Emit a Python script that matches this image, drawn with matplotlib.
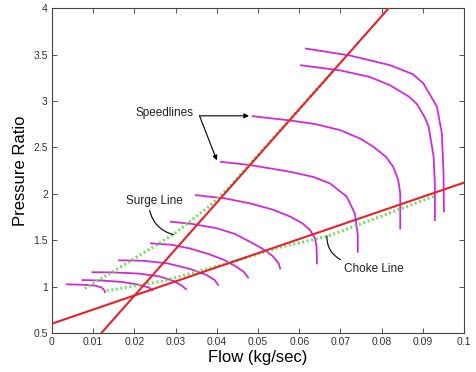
import matplotlib
matplotlib.use("Agg")
import matplotlib.pyplot as plt

plt.rcParams['font.family'] = ['Liberation Sans', 'DejaVu Sans']

# ---- data ----
x_ticks = [0, 0.01, 0.02, 0.03, 0.04, 0.05, 0.06, 0.07, 0.08, 0.09, 0.1]
x_tick_labels = ["0", "0.01", "0.02", "0.03", "0.04", "0.05", "0.06", "0.07", "0.08", "0.09", "0.1"]
y_ticks = [0.5, 1, 1.5, 2, 2.5, 3, 3.5, 4]
y_tick_labels = ["0.5", "1", "1.5", "2", "2.5", "3", "3.5", "4"]

speed1_x = [0.0034, 0.007, 0.0105, 0.012, 0.0127, 0.0129]
speed1_y = [1.024, 1.02, 1.01, 0.99, 0.96, 0.93]
speed2_x = [0.0072, 0.012, 0.017, 0.021, 0.0235, 0.0245]
speed2_y = [1.07, 1.065, 1.05, 1.02, 0.99, 0.955]
speed3_x = [0.0096, 0.015, 0.021, 0.026, 0.0295, 0.0315, 0.0327]
speed3_y = [1.155, 1.152, 1.14, 1.11, 1.06, 1.01, 0.965]
speed4_x = [0.0161, 0.022, 0.028, 0.0335, 0.0375, 0.0395, 0.0404]
speed4_y = [1.283, 1.278, 1.25, 1.19, 1.125, 1.07, 1.01]
speed5_x = [0.0238, 0.029, 0.0335, 0.038, 0.0416, 0.0445, 0.0465, 0.0477]
speed5_y = [1.466, 1.45, 1.41, 1.35, 1.29, 1.22, 1.16, 1.09]
speed6_x = [0.0286, 0.034, 0.04, 0.0445, 0.048, 0.051, 0.0535, 0.055, 0.0554]
speed6_y = [1.70, 1.675, 1.628, 1.565, 1.483, 1.41, 1.33, 1.25, 1.186]
speed7_x = [0.0347, 0.042, 0.048, 0.0535, 0.0578, 0.0608, 0.0626, 0.0638, 0.0642, 0.0643]
speed7_y = [1.986, 1.95, 1.897, 1.83, 1.754, 1.68, 1.609, 1.52, 1.43, 1.24]
speed8_x = [0.0408, 0.048, 0.0578, 0.0635, 0.0675, 0.0715, 0.0735, 0.0742, 0.0742]
speed8_y = [2.345, 2.31, 2.237, 2.18, 2.11, 1.97, 1.787, 1.55, 1.365]
speed9_x = [0.0485, 0.0578, 0.064, 0.0699, 0.075, 0.078, 0.081, 0.0828, 0.084, 0.0845, 0.0845]
speed9_y = [2.837, 2.79, 2.75, 2.686, 2.59, 2.506, 2.4, 2.29, 2.15, 2.0, 1.617]
speed10_x = [0.0602, 0.0699, 0.077, 0.082, 0.0865, 0.0885, 0.0905, 0.0914, 0.0926, 0.0929, 0.0929]
speed10_y = [3.386, 3.33, 3.26, 3.17, 3.05, 2.97, 2.82, 2.72, 2.40, 2.1, 1.706]
speed11_x = [0.0614, 0.0723, 0.082, 0.0875, 0.0901, 0.0934, 0.0946, 0.095, 0.0951]
speed11_y = [3.566, 3.49, 3.386, 3.29, 3.19, 2.94, 2.65, 2.22, 1.80]

surge_red_x = [0.012, 0.0817]
surge_red_y = [0.5, 4.0]
choke_red_x = [0.0, 0.1]
choke_red_y = [0.6, 2.12]

surge_green_x = [0.008, 0.017, 0.0294, 0.0383, 0.043, 0.0682]
surge_green_y = [0.98, 1.22, 1.56, 1.87, 2.07, 3.32]
choke_green_x = [0.0133, 0.027, 0.045, 0.055, 0.0667, 0.08, 0.093]
choke_green_y = [0.955, 1.06, 1.28, 1.42, 1.54, 1.76, 1.98]

speed_xs = [speed1_x, speed2_x, speed3_x, speed4_x, speed5_x, speed6_x,
            speed7_x, speed8_x, speed9_x, speed10_x, speed11_x]
speed_ys = [speed1_y, speed2_y, speed3_y, speed4_y, speed5_y, speed6_y,
            speed7_y, speed8_y, speed9_y, speed10_y, speed11_y]

fig = plt.figure(figsize=(4.77, 3.72), dpi=100)
ax = fig.add_axes([0.109, 0.105, 0.864, 0.873])

MAG = "#d02ad8"
RED = "#e8202a"
GREEN = "#66dd55"

for xs, ys in zip(speed_xs, speed_ys):
    ax.plot(xs, ys, color=MAG, lw=1.3, solid_capstyle='butt', zorder=2)

ax.plot(surge_green_x, surge_green_y, color=GREEN, lw=2.2, ls=(0, (0.6, 0.9)), zorder=3)
ax.plot(choke_green_x, choke_green_y, color=GREEN, lw=2.2, ls=(0, (0.6, 0.9)), zorder=3)

ax.plot(surge_red_x, surge_red_y, color=RED, lw=1.5, zorder=4)
ax.plot(choke_red_x, choke_red_y, color=RED, lw=1.5, zorder=4)

ax.set_xlim(0, 0.1)
ax.set_ylim(0.5, 4)
ax.set_xticks(x_ticks)
ax.set_xticklabels(x_tick_labels)
ax.set_yticks(y_ticks)
ax.set_yticklabels(y_tick_labels)
ax.tick_params(direction='in', top=True, right=True, length=3.5, width=0.6,
               labelsize=7.5, colors='#333333', pad=3)
for s in ax.spines.values():
    s.set_color('#444444')
    s.set_linewidth(0.8)

ax.set_xlabel("Flow (kg/sec)", fontsize=12, labelpad=2)
ax.set_ylabel("Pressure Ratio", fontsize=12, labelpad=4)

TXT = '#222222'
ax.text(0.0274, 2.87, "Speedlines", fontsize=8.5, ha='center', va='center', color=TXT)
ax.annotate("", xy=(0.0478, 2.84), xytext=(0.0358, 2.84),
            arrowprops=dict(arrowstyle='-|>', color='black', lw=0.8,
                            mutation_scale=7, shrinkA=0, shrinkB=0))
ax.annotate("", xy=(0.0400, 2.36), xytext=(0.0358, 2.84),
            arrowprops=dict(arrowstyle='-|>', color='black', lw=0.8,
                            mutation_scale=7, shrinkA=0, shrinkB=0))

ax.text(0.0248, 1.92, "Surge Line", fontsize=8.5, ha='center', va='center', color=TXT)
ax.annotate("", xy=(0.0295, 1.56), xytext=(0.0237, 1.82),
            arrowprops=dict(arrowstyle='-', color='black', lw=0.8,
                            connectionstyle='arc3,rad=0.3', shrinkA=0, shrinkB=0))

ax.text(0.0780, 1.19, "Choke Line", fontsize=8.5, ha='center', va='center', color=TXT)
ax.annotate("", xy=(0.0667, 1.545), xytext=(0.0700, 1.29),
            arrowprops=dict(arrowstyle='-', color='black', lw=0.8,
                            connectionstyle='arc3,rad=-0.3', shrinkA=0, shrinkB=0))

fig.savefig("out.png", dpi=100)
